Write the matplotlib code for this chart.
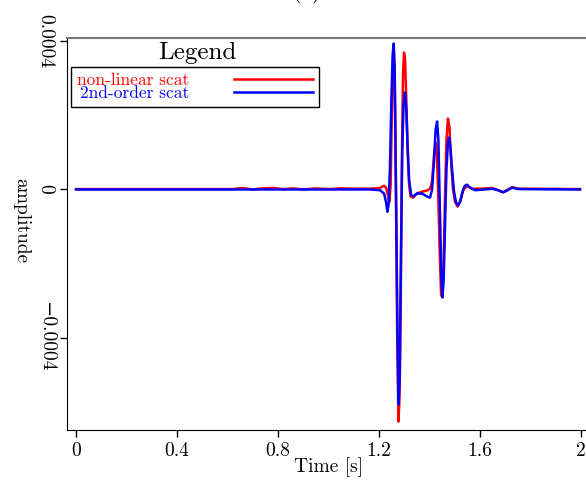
import matplotlib
matplotlib.use("Agg")
import matplotlib.pyplot as plt
import numpy as np

plt.rcParams['font.family'] = ['cmr10', 'DejaVu Serif']
plt.rcParams['axes.formatter.use_mathtext'] = True

# amplitudes in units of 1e-4
t_red = [0.0, 0.62, 0.66, 0.70, 0.74, 0.78, 0.82, 0.86, 0.90, 0.95, 1.00, 1.05, 1.10,
         1.164, 1.204, 1.220, 1.228, 1.236, 1.241, 1.246, 1.251, 1.256, 1.259, 1.262,
         1.267, 1.272, 1.277, 1.281, 1.286, 1.291, 1.295, 1.299, 1.303, 1.308, 1.313,
         1.319, 1.325, 1.335, 1.350, 1.370, 1.390, 1.402, 1.410, 1.418, 1.424, 1.428,
         1.434, 1.440, 1.446, 1.450, 1.456, 1.461, 1.467, 1.473, 1.479, 1.485, 1.493,
         1.501, 1.511, 1.521, 1.533, 1.545, 1.552, 1.568, 1.600, 1.648, 1.691, 1.727,
         1.758, 1.996]
amp_red = [0.0, 0.0, 0.03, -0.01, 0.02, 0.03, 0.0, 0.02, -0.01, 0.02, 0.0, 0.02, 0.01,
           0.01, 0.03, 0.09, 0.04, -0.18, -0.34, 0.12, 2.15, 3.49, 3.70, 3.08,
           -0.01, -4.05, -6.26, -5.67, -2.98, 1.06, 3.08, 3.68, 3.49, 2.41, 1.06,
           0.12, -0.20, -0.23, -0.12, -0.07, -0.04, 0.01, 0.20, 0.93, 1.25, 1.06,
           -0.01, -1.63, -2.87, -2.84, -1.90, -0.28, 1.33, 1.90, 1.66, 0.79, -0.01,
           -0.34, -0.47, -0.34, -0.04, 0.07, 0.07, 0.01, 0.01, 0.03, -0.08, 0.05,
           0.01, 0.0]

t_blue = [0.0, 1.164, 1.204, 1.220, 1.228, 1.233, 1.238, 1.243, 1.249, 1.254, 1.258,
          1.262, 1.267, 1.273, 1.277, 1.282, 1.287, 1.292, 1.297, 1.303, 1.308, 1.313,
          1.319, 1.327, 1.335, 1.350, 1.370, 1.390, 1.402, 1.410, 1.418, 1.424, 1.430,
          1.435, 1.441, 1.447, 1.451, 1.456, 1.461, 1.467, 1.473, 1.477, 1.483, 1.489,
          1.497, 1.505, 1.513, 1.521, 1.533, 1.540, 1.548, 1.560, 1.580, 1.620, 1.648,
          1.671, 1.691, 1.707, 1.727, 1.750, 1.996]
amp_blue = [-0.01, -0.01, -0.03, -0.12, -0.36, -0.61, -0.42, 0.53, 2.41, 3.62, 3.92,
            3.22, -0.01, -3.78, -5.80, -5.13, -1.63, 1.06, 2.28, 2.60, 2.14, 1.20,
            0.26, -0.15, -0.20, -0.12, -0.12, -0.20, -0.23, -0.01, 0.79, 1.60, 1.82,
            1.33, -0.55, -2.44, -2.92, -2.44, -1.09, 0.53, 1.28, 1.39, 1.12, 0.53,
            -0.07, -0.36, -0.44, -0.34, -0.01, 0.09, 0.12, 0.04, -0.03, -0.01, 0.01,
            -0.03, -0.09, -0.04, 0.04, 0.0, -0.01]

xticks = [0, 0.4, 0.8, 1.2, 1.6, 2.0]
xticklabels = ['0', '0.4', '0.8', '1.2', '1.6', '2']
yticks = [-0.0004, 0, 0.0004]
yticklabels = ['\u22120.0004', '0', '0.0004']

W, H = 586, 483
fig = plt.figure(figsize=(W / 100, H / 100), dpi=100)
ax = fig.add_axes([67 / W, 1 - 430 / H, (600 - 67) / W, (430 - 38) / H])

ax.plot(t_red, np.array(amp_red) * 1e-4, color='#ff0000', lw=1.8, label='non-linear scat')
ax.plot(t_blue, np.array(amp_blue) * 1e-4, color='#0000ff', lw=1.8, label='2nd-order scat')

ax.set_xlim(-0.0356, 2.075)
ax.set_ylim(-0.000649, 0.000407)
ax.set_xticks(xticks)
ax.set_xticklabels(xticklabels, fontsize=14)
ax.set_yticks(yticks)
ax.set_yticklabels(yticklabels, fontsize=14, rotation=-90, va='center')
ax.tick_params(axis='both', direction='out', length=5, width=1, pad=4)

ax.spines['right'].set_visible(False)
ax.spines['top'].set_color('#777777')
ax.spines['top'].set_linewidth(1.5)

ax.set_xlabel('Time [s]', fontsize=14, va='center')
ax.xaxis.set_label_coords((329 - 67) / 533, -(467 - 430) / 392)
ax.set_ylabel('amplitude', fontsize=14, rotation=-90, va='center')
ax.yaxis.set_label_coords((21 - 67) / 533, (430 - 221) / 392)

leg = ax.legend(loc='upper left', bbox_to_anchor=(71 / W, 1 - 67 / H),
                bbox_transform=fig.transFigure, borderaxespad=0, fontsize=12.5,
                markerfirst=False, handlelength=4.5, fancybox=False, frameon=True,
                edgecolor='black', framealpha=1, borderpad=0.35, labelspacing=-0.15,
                handletextpad=2.6)
leg.get_frame().set_linewidth(1.0)
for txt, c in zip(leg.get_texts(), ['#ff0000', '#0000ff']):
    txt.set_color(c)
fig.text(197 / W, 1 - 53 / H, 'Legend', fontsize=18, ha='center', va='center')

fig.text(307 / W, 1.005, '(a)', fontsize=17, ha='center', va='baseline')

fig.savefig('out.png', dpi=100)
